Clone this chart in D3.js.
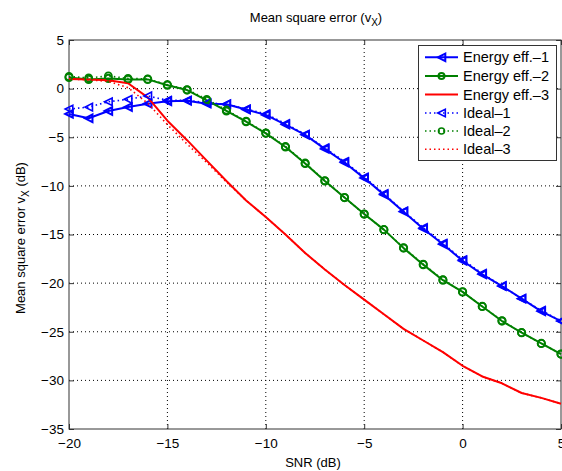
<!DOCTYPE html>
<html>
<head>
<meta charset="utf-8">
<script src="https://cdn.jsdelivr.net/npm/d3@7"></script>
<style>
  html, body { margin: 0; padding: 0; background: #fff; }
  svg { display: block; font-family: "Liberation Sans", Arial, Helvetica, sans-serif; }
</style>
</head>
<body>
<svg id="chart" width="562" height="471"></svg>
<script>
const snr = [-20,-19,-18,-17,-16,-15,-14,-13,-12,-11,-10,-9,-8,-7,-6,-5,-4,-3,-2,-1,0,1,2,3,4,5];
const energy1 = [-2.6,-3.05,-2.3,-1.9,-1.55,-1.3,-1.25,-1.55,-1.6,-2.15,-2.7,-3.7,-4.75,-6.2,-7.6,-9.2,-10.9,-12.65,-14.4,-16.0,-17.7,-19.1,-20.3,-21.6,-22.9,-23.9];
const energy2 = [1.15,0.95,1.05,0.95,0.95,0.35,-0.15,-1.2,-2.3,-3.4,-4.6,-6.0,-7.7,-9.5,-11.2,-12.9,-14.5,-16.4,-18.1,-19.7,-20.9,-22.4,-23.9,-25.1,-26.2,-27.3];
const energy3 = [1.0,0.95,0.85,0.55,-0.9,-3.3,-5.3,-7.4,-9.5,-11.5,-13.2,-15.0,-16.9,-18.6,-20.2,-21.7,-23.2,-24.7,-25.9,-27.1,-28.5,-29.6,-30.3,-31.3,-31.8,-32.4];
const ideal1 = [-2.1,-1.9,-1.35,-1.1,-0.75,-1.2,-1.2,-1.45,-1.6,-2.1,-2.6,-3.6,-4.7,-6.1,-7.5,-9.1,-10.8,-12.6,-14.3,-15.9,-17.6,-19.0,-20.3,-21.6,-22.8,-23.9];
const ideal2 = [1.25,1.1,1.3,1.05,1.0,0.4,-0.1,-1.1,-2.2,-3.35,-4.55,-5.95,-7.65,-9.45,-11.2,-12.9,-14.5,-16.35,-18.05,-19.65,-20.9,-22.4,-23.85,-25.1,-26.2,-27.3];
const ideal3 = [1.0,0.9,0.75,0.1,-1.5,-3.7,-5.7,-7.6,-9.6,-11.5,-13.2,-15.0,-16.9,-18.6,-20.2,-21.7,-23.2,-24.7,-25.9,-27.1,-28.5,-29.6,-30.3,-31.3,-31.8,-32.4];
const xTicks = [-20,-15,-10,-5,0,5];
const yTicks = [5,0,-5,-10,-15,-20,-25,-30,-35];
const seriesNames = ["Energy eff.–1","Energy eff.–2","Energy eff.–3","Ideal–1","Ideal–2","Ideal–3"];
const titleText = "Mean square error (v";
const titleSub = "X";
const yLabelText = "Mean square error v";
const xLabelText = "SNR (dB)";

const margin = {left: 69, right: 1, top: 40, bottom: 42};
const W = 562, H = 471;
const svg = d3.select("#chart");
const x = d3.scaleLinear().domain([-20, 5]).range([margin.left, W - margin.right]);
const y = d3.scaleLinear().domain([-35, 5]).range([H - margin.bottom, margin.top]);
const fmt = d3.format("");

const BLUE = "#0000ff", GREEN = "#008000", RED = "#ff0000";
const series = [
  {name: seriesNames[0], vals: energy1, color: BLUE, dash: null, width: 2, marker: "tri", msw: 2},
  {name: seriesNames[1], vals: energy2, color: GREEN, dash: null, width: 2, marker: "circ", msw: 2},
  {name: seriesNames[2], vals: energy3, color: RED, dash: null, width: 2, marker: null},
  {name: seriesNames[3], vals: ideal1, color: BLUE, dash: "1.5,3", width: 1.6, marker: "tri", msw: 1.6},
  {name: seriesNames[4], vals: ideal2, color: GREEN, dash: "1.5,3", width: 1.6, marker: "circ", msw: 1.6},
  {name: seriesNames[5], vals: ideal3, color: RED, dash: "1.5,3", width: 1.6, marker: null}
];

// grid
const grid = svg.append("g");
grid.selectAll("line.gx").data(xTicks.slice(1, -1)).join("line")
  .attr("x1", d => x(d)).attr("x2", d => x(d))
  .attr("y1", y(5)).attr("y2", y(-35))
  .attr("stroke", "#000").attr("stroke-width", 1).attr("stroke-dasharray", "1,3");
grid.selectAll("line.gy").data(yTicks.slice(1, -1)).join("line")
  .attr("y1", d => y(d)).attr("y2", d => y(d))
  .attr("x1", x(-20)).attr("x2", x(5))
  .attr("stroke", "#000").attr("stroke-width", 1).attr("stroke-dasharray", "1,3");

// axes
const xAxis = d3.axisBottom(x).tickValues(xTicks).tickSize(-5).tickPadding(9).tickFormat(fmt);
const yAxis = d3.axisLeft(y).tickValues(yTicks).tickSize(-5).tickPadding(5).tickFormat(fmt);
const gx = svg.append("g").attr("transform", `translate(0,${y(-35)})`).call(xAxis);
const gy = svg.append("g").attr("transform", `translate(${x(-20)},0)`).call(yAxis);
const gx2 = svg.append("g").attr("transform", `translate(0,${y(5)})`).call(d3.axisTop(x).tickValues(xTicks).tickSize(-5).tickFormat(""));
const gy2 = svg.append("g").attr("transform", `translate(${x(5)},0)`).call(d3.axisRight(y).tickValues(yTicks).tickSize(-5).tickFormat(""));
[gx, gy, gx2, gy2].forEach(g => {
  g.select(".domain").remove();
  g.selectAll(".tick line").attr("stroke", "#333");
  g.selectAll("text").attr("font-size", 13.5).attr("fill", "#000").attr("font-family", "Liberation Sans, Arial, sans-serif");
});
svg.append("rect").attr("x", x(-20)).attr("y", y(5))
  .attr("width", x(5) - x(-20)).attr("height", y(-35) - y(5))
  .attr("fill", "none").attr("stroke", "#333").attr("stroke-width", 1);

// clip
svg.append("clipPath").attr("id", "clip").append("rect")
  .attr("x", x(-20) - 6).attr("y", y(5)).attr("width", x(5) - x(-20) + 12).attr("height", y(-35) - y(5));

const line = d3.line().x(d => x(d[0])).y(d => y(d[1]));
const triPath = s => `M${-s},0L${s},${-s}L${s},${s}Z`;

const plot = svg.append("g").attr("clip-path", "url(#clip)");
series.forEach(s => {
  const pts = snr.map((v, i) => [v, s.vals[i]]);
  const g = plot.append("g");
  g.append("path").attr("d", line(pts)).attr("fill", "none")
    .attr("stroke", s.color).attr("stroke-width", s.width)
    .attr("stroke-dasharray", s.dash).attr("stroke-linejoin", "round");
  if (s.marker === "tri") {
    g.selectAll("path.m").data(pts).join("path")
      .attr("transform", d => `translate(${x(d[0])},${y(d[1])})`)
      .attr("d", triPath(3.8)).attr("fill", "none")
      .attr("stroke", s.color).attr("stroke-width", s.msw);
  } else if (s.marker === "circ") {
    g.selectAll("circle").data(pts).join("circle")
      .attr("cx", d => x(d[0])).attr("cy", d => y(d[1])).attr("r", 3.6)
      .attr("fill", "none").attr("stroke", s.color).attr("stroke-width", s.msw);
  }
});

// legend
const lg = svg.append("g");
lg.append("rect").attr("x", 418.5).attr("y", 45.5).attr("width", 138).attr("height", 115)
  .attr("fill", "#fff").attr("stroke", "#333").attr("stroke-width", 1);
const rowY = [57.3, 76, 94.5, 113, 131, 149.3];
series.forEach((s, i) => {
  const cy = rowY[i];
  lg.append("line").attr("x1", 425).attr("x2", 458).attr("y1", cy).attr("y2", cy)
    .attr("stroke", s.color).attr("stroke-width", s.width).attr("stroke-dasharray", s.dash);
  if (s.marker === "tri") {
    lg.append("path").attr("transform", `translate(441.5,${cy})`).attr("d", triPath(3.8))
      .attr("fill", "none").attr("stroke", s.color).attr("stroke-width", s.msw);
  } else if (s.marker === "circ") {
    lg.append("circle").attr("cx", 441.5).attr("cy", cy).attr("r", 3)
      .attr("fill", "none").attr("stroke", s.color).attr("stroke-width", s.msw);
  }
  lg.append("text").attr("x", 463).attr("y", cy + 5).attr("font-size", 14.5).attr("fill", "#000").text(s.name);
});

// title
const t = svg.append("text").attr("x", 316).attr("y", 22).attr("text-anchor", "middle")
  .attr("font-size", 13).attr("fill", "#000");
t.append("tspan").text(titleText);
t.append("tspan").attr("dy", 4).attr("font-size", 10).text(titleSub);
t.append("tspan").attr("dy", -4).text(")");

// x label
svg.append("text").attr("x", 313).attr("y", 467).attr("text-anchor", "middle")
  .attr("font-size", 13).attr("fill", "#000").text(xLabelText);

// y label
const yl = svg.append("text").attr("transform", "translate(25,238) rotate(-90)")
  .attr("text-anchor", "middle").attr("font-size", 13).attr("fill", "#000");
yl.append("tspan").text(yLabelText);
yl.append("tspan").attr("dy", 4).attr("font-size", 10).text("X");
yl.append("tspan").attr("dy", -4).text(" (dB)");
</script>
</body>
</html>
